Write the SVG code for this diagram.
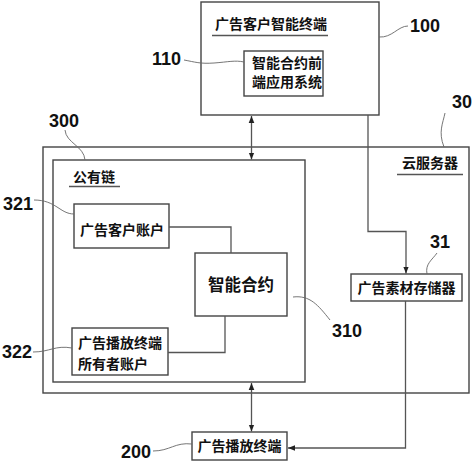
<svg xmlns="http://www.w3.org/2000/svg" width="474" height="462" viewBox="0 0 474 462">
<style>
.box{fill:#fff;stroke:#444;stroke-width:1.4}
.ln{fill:none;stroke:#555;stroke-width:1.3}
.ld{fill:none;stroke:#666;stroke-width:0.9}
.t{font-family:"Noto Sans CJK SC","Noto Sans CJK JP",sans-serif;font-weight:bold;font-size:14px;fill:#111}
.n{font-family:"Liberation Sans","DejaVu Sans",sans-serif;font-weight:bold;font-size:18px;fill:#111}
.ul{stroke:#555;stroke-width:1.3}
</style>
<defs>
<marker id="ah" viewBox="0 0 10 10" refX="10" refY="5" markerWidth="7" markerHeight="7" orient="auto-start-reverse" markerUnits="userSpaceOnUse">
<path d="M0,1 L10,5 L0,9 Z" fill="#222"/>
</marker>
</defs>
<rect width="474" height="462" fill="#fff"/>

<g id="n300-cloud">
<rect class="box" x="43" y="147" width="426" height="246"/>
<text class="t" x="430" y="168" text-anchor="middle">云服务器</text>
<line class="ul" x1="397" y1="174.5" x2="463" y2="174.5"/>
</g>
<g id="n300">
<rect class="box" x="53" y="160" width="252" height="222"/>
<text class="t" x="94" y="182" text-anchor="middle">公有链</text>
<line class="ul" x1="69" y1="186.5" x2="120" y2="186.5"/>
</g>
<g id="n100">
<rect class="box" x="201" y="2" width="178" height="113"/>
<text class="t" x="271" y="29" text-anchor="middle">广告客户智能终端</text>
<line class="ul" x1="212" y1="35.5" x2="328" y2="35.5"/>
</g>
<g id="n110">
<rect class="box" x="244" y="51" width="79" height="45"/>
<text class="t" x="287" y="68" text-anchor="middle">智能合约前</text>
<text class="t" x="287" y="87" text-anchor="middle">端应用系统</text>
</g>
<g id="n321">
<rect class="box" x="74" y="204" width="95" height="44"/>
<text class="t" x="122" y="235" text-anchor="middle">广告客户账户</text>
</g>
<g id="n310">
<rect class="box" x="195" y="253" width="92" height="63"/>
<text class="t" x="241" y="291" text-anchor="middle" style="font-size:16.5px">智能合约</text>
</g>
<g id="n322">
<rect class="box" x="72" y="328" width="96" height="47"/>
<text class="t" x="78" y="348">广告播放终端</text>
<text class="t" x="78" y="369">所有者账户</text>
</g>
<g id="n31">
<rect class="box" x="351" y="274" width="111" height="27"/>
<text class="t" x="406.5" y="293" text-anchor="middle">广告素材存储器</text>
</g>
<g id="n200">
<rect class="box" x="192" y="432" width="95" height="28"/>
<text class="t" x="239.5" y="451" text-anchor="middle">广告播放终端</text>
</g>

<g id="connectors">
<line class="ln" x1="251.5" y1="116" x2="251.5" y2="159.5" marker-start="url(#ah)" marker-end="url(#ah)"/>
<polyline class="ln" points="368,115 368,231.5 406,231.5 406,273.5" marker-end="url(#ah)"/>
<polyline class="ln" points="169,227 231,227 231,253"/>
<polyline class="ln" points="225,316 225,352.5 168,352.5"/>
<line class="ln" x1="251.5" y1="383" x2="251.5" y2="431.5" marker-start="url(#ah)" marker-end="url(#ah)"/>
<polyline class="ln" points="405.5,301 405.5,448 288,448" marker-end="url(#ah)"/>
</g>

<g id="labels">
<text class="n" x="410" y="32">100</text>
<path class="ld" d="M379,37 C392,38 398,26 408,26"/>
<text class="n" x="152" y="65">110</text>
<path class="ld" d="M184,60 C195,62 200,64 214,63 C228,62 235,60 244,62"/>
<text class="n" x="452" y="108">30</text>
<path class="ld" d="M445,113 C443,123 438,132 444,147"/>
<text class="n" x="49" y="127">300</text>
<path class="ld" d="M65,130 C66,143 84,146 85,160"/>
<text class="n" x="3" y="210">321</text>
<path class="ld" d="M34,200 C56,200 60,214 74,214"/>
<text class="n" x="332" y="337">310</text>
<path class="ld" d="M293,297 C310,295 318,305 330,320"/>
<text class="n" x="430" y="248">31</text>
<path class="ld" d="M427,274 C425,264 432,260 437,253"/>
<text class="n" x="2" y="358">322</text>
<path class="ld" d="M33,352 C50,352 55,345 72,348"/>
<text class="n" x="121" y="458">200</text>
<path class="ld" d="M153,451 C170,451 175,442 192,444"/>
</g>
</svg>
